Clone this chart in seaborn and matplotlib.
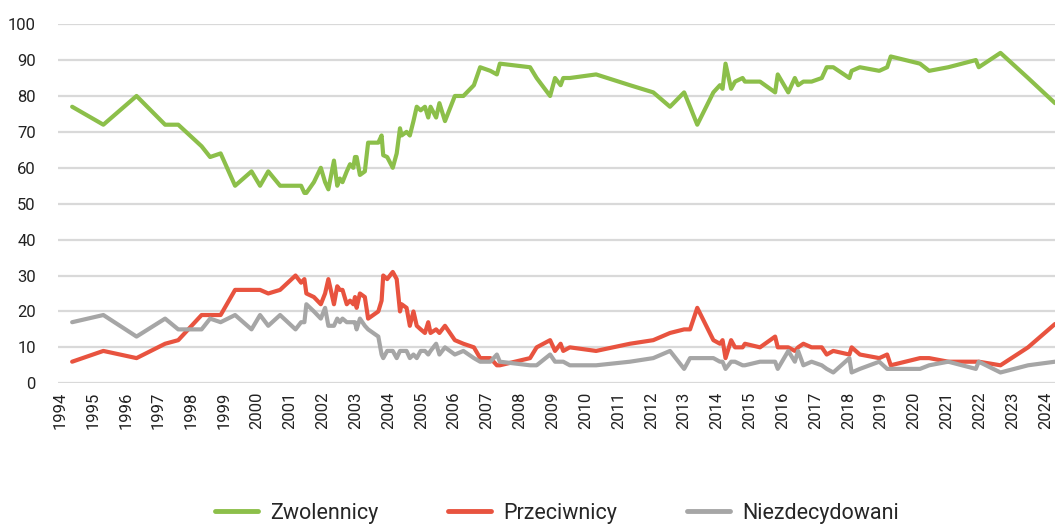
import matplotlib
matplotlib.use("Agg")
import matplotlib.pyplot as plt
import seaborn as sns
import pandas as pd
from matplotlib.lines import Line2D

# ---- data ----
dates = [1994.37, 1995.32, 1996.33, 1997.2, 1997.6, 1998.31, 1998.57, 1998.89, 1999.33, 1999.83,
         2000.09, 2000.34, 2000.7, 2001.17, 2001.34, 2001.44, 2001.5, 2001.73, 2001.94, 2002.07,
         2002.17, 2002.34, 2002.44, 2002.52, 2002.6, 2002.73, 2002.83, 2002.93, 2002.98, 2003.03,
         2003.13, 2003.28, 2003.38, 2003.69, 2003.79, 2003.84, 2003.96, 2004.13, 2004.25, 2004.35,
         2004.4, 2004.55, 2004.65, 2004.76, 2004.86, 2004.98, 2005.11, 2005.21, 2005.28, 2005.45,
         2005.55, 2005.72, 2006.02, 2006.28, 2006.6, 2006.79, 2007.1, 2007.3, 2007.39, 2008.31,
         2008.51, 2008.92, 2009.07, 2009.24, 2009.32, 2009.52, 2010.32, 2011.35, 2012.06, 2012.57,
         2013.0, 2013.18, 2013.4, 2013.89, 2014.09, 2014.17, 2014.26, 2014.43, 2014.55, 2014.78,
         2014.85, 2015.31, 2015.77, 2015.85, 2016.17, 2016.37, 2016.47, 2016.63, 2016.88, 2017.19,
         2017.34, 2017.54, 2018.03, 2018.1, 2018.35, 2018.94, 2019.18, 2019.29, 2020.18, 2020.46,
         2021.04, 2021.88, 2021.97, 2022.63, 2023.47, 2024.29]

zwolennicy = [77, 72, 80, 72, 72, 66, 63, 64, 55, 59,
              55, 59, 55, 55, 55, 53, 53, 56, 60, 56,
              54, 62, 55, 57, 56, 59, 61, 60, 63, 63,
              58, 59, 67, 67, 69, 63.5, 63, 60, 64, 71,
              69, 70, 69, 73, 77, 76, 77, 74, 77, 74,
              78, 73, 80, 80, 83, 88, 87, 86, 89, 88,
              85, 80, 85, 83, 85, 85, 86, 83, 81, 77,
              81, 77, 72, 81, 83, 82, 89, 82, 84, 85,
              84, 84, 81, 86, 81, 85, 83, 84, 84, 85,
              88, 88, 85, 87, 88, 87, 88, 91, 89, 87,
              88, 90, 88, 92, 85, 78]

przeciwnicy = [6, 9, 7, 11, 12, 19, 19, 19, 26, 26,
               26, 25, 26, 30, 28, 29, 25, 24, 22, 25,
               29, 22, 27, 26, 26, 22, 23, 22, 24, 21,
               25, 24, 18, 20, 23, 30, 29, 31, 29, 20,
               22, 21, 16, 20, 16, 15, 14, 17, 14, 15,
               14, 16, 12, 11, 10, 7, 7, 5, 5, 7,
               10, 12, 9, 11, 9, 10, 9, 11, 12, 14,
               15, 15, 21, 12, 11, 12, 7, 12, 10, 10,
               11, 10, 13, 10, 10, 9, 10, 11, 10, 10,
               8, 9, 8, 10, 8, 7, 8, 5, 7, 7,
               6, 6, 6, 5, 10, 16.5]

niezdecydowani = [17, 19, 13, 18, 15, 15, 18, 17, 19, 15,
                  19, 16, 19, 15, 17, 17, 22, 20, 18, 21,
                  16, 16, 18, 17, 18, 17, 17, 17, 17, 15,
                  18, 16, 15, 13, 8, 7, 9, 9, 7, 9,
                  9, 9, 7, 8, 7, 9, 9, 8, 9, 11,
                  8, 10, 8, 9, 7, 6, 6, 8, 6, 5,
                  5, 8, 6, 6, 6, 5, 5, 6, 7, 9,
                  4, 7, 7, 7, 6, 6, 4, 6, 6, 5,
                  5, 6, 6, 4, 9, 6, 9, 5, 6, 5,
                  4, 3, 7, 3, 4, 6, 4, 4, 4, 5,
                  6, 4, 6, 3, 5, 6]

series_names = ["Zwolennicy", "Przeciwnicy", "Niezdecydowani"]
colors = ["#8cbf4a", "#e8533f", "#a6a6a6"]
year_ticks = list(range(1994, 2025))
y_ticks = list(range(0, 101, 10))

df = pd.DataFrame({"data": dates,
                   "Zwolennicy": zwolennicy,
                   "Przeciwnicy": przeciwnicy,
                   "Niezdecydowani": niezdecydowani})
long = df.melt(id_vars="data", var_name="grupa", value_name="wartosc")

# ---- style ----
sns.set_theme(style="white")
plt.rcParams["font.family"] = ["Roboto", "DejaVu Sans"]

fig = plt.figure(figsize=(10.55, 5.25), dpi=100)
ax = fig.add_axes([0.055, 0.27, 0.945, 0.684])

sns.lineplot(data=long, x="data", y="wartosc", hue="grupa", hue_order=series_names,
             palette=dict(zip(series_names, colors)), linewidth=3, sort=False,
             estimator=None, ax=ax, legend=False)

ax.set_xlim(1993.94, 2024.29)
ax.set_ylim(0, 100)
ax.set_yticks(y_ticks)
ax.set_yticklabels([str(v) for v in y_ticks], fontsize=12, color="#222222")
ax.set_xticks(year_ticks)
ax.set_xticklabels([str(v) for v in year_ticks], rotation=90, fontsize=12, color="#222222")
ax.tick_params(axis="y", length=0, pad=16)
ax.tick_params(axis="x", length=0, pad=6)
ax.set_xlabel("")
ax.set_ylabel("")
ax.grid(axis="y", color="#d9d9d9", linewidth=1.6)
ax.grid(axis="x", visible=False)
ax.set_axisbelow(True)
for s in ax.spines.values():
    s.set_visible(False)

handles = [Line2D([0], [0], color=c, linewidth=3.5) for c in colors]
fig.legend(handles, series_names, loc="center", bbox_to_anchor=(0.528, 0.022), ncol=3,
           frameon=False, fontsize=15.5, handlelength=2.0, handletextpad=0.55,
           columnspacing=3.25)

fig.savefig("out.png", dpi=100, facecolor="white")
